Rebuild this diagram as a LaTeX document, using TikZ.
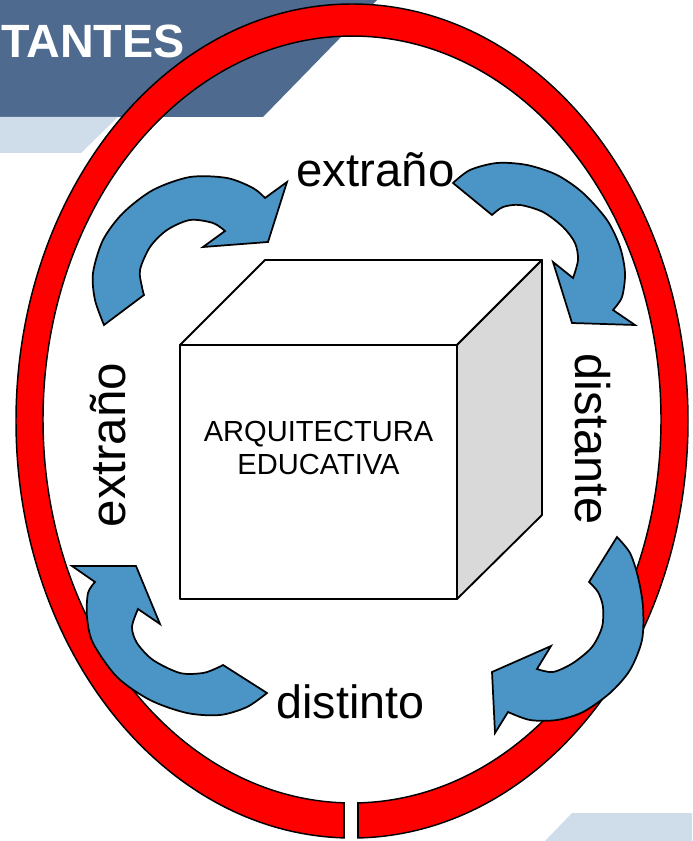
\documentclass[tikz,border=0pt]{standalone}
\usepackage{fontspec}
\setmainfont{Liberation Sans}
\definecolor{bannerdark}{RGB}{79,106,143}
\definecolor{bannerlight}{RGB}{207,221,234}
\definecolor{ringred}{RGB}{255,0,0}
\definecolor{arrowblue}{RGB}{74,148,198}
\definecolor{sidegray}{RGB}{217,217,217}
\begin{document}
\begin{tikzpicture}[x=0.75pt,y=-0.75pt,
  ringstyle/.style={fill=ringred, draw=black, line width=1.1pt, even odd rule},
  arrowstyle/.style={fill=arrowblue, draw=black, line width=1.3pt, line join=miter},
  cubeface/.style={draw=black, line width=1.4pt, line join=round},
  wordlbl/.style={inner sep=0pt, anchor=base, text=black}]
\useasboundingbox (0,0) rectangle (692,841);
% banner shapes
\fill[bannerdark] (0,0) -- (377,0) -- (263,117) -- (0,117) -- cycle;
\fill[bannerlight] (0,117) -- (118,117) -- (81,153) -- (0,153) -- cycle;
\fill[bannerlight] (545,841) -- (572,813) -- (692,813) -- (692,841) -- cycle;
\node[font=\bfseries\fontsize{35}{40}\selectfont, text=white, inner sep=0pt, anchor=base west] (title) at (1,58) {TANTES};
% ring
\path[ringstyle] (352,421) ellipse [x radius=252pt, y radius=312.75pt]
                 (352,419.5) ellipse [x radius=231.75pt, y radius=287.6pt];
\fill[white] (344.6,790) rectangle (357.4,845);
\draw[line width=1.1pt] (344,802.5) -- (344,838.3);
\draw[line width=1.1pt] (358,802.5) -- (358,838.3);
% cube
\filldraw[cubeface, fill=white] (180,345) -- (265,260) -- (542,260) -- (457,345) -- cycle;
\filldraw[cubeface, fill=sidegray] (457,345) -- (542,260) -- (542,515) -- (457,599) -- cycle;
\filldraw[cubeface, fill=white] (180,345) rectangle (457,599);
\node[font=\fontsize{21.8}{24.75}\selectfont, align=center, inner sep=0pt, anchor=north] (arq) at (318.5,421) {ARQUITECTURA\\EDUCATIVA};
% arrows
\filldraw[arrowstyle] plot[smooth] coordinates {(104,325) (95,300) (93,273) (103,240) (123,213) (153,190) (190,177) (227,178) (253,188) (265,198)}
  -- (287,182) -- (268,242) -- (203,247) -- (225,231)
  -- plot[smooth] coordinates {(225,231) (213,223) (190,220) (167,230) (150,247) (140,270) (142,287) (144,295)} -- cycle;
\filldraw[arrowstyle] plot[smooth] coordinates {(453,183) (470,170) (497,163) (527,165) (557,175) (583,193) (607,220) (620,247) (625,273) (622,297) (613,310)}
  -- (635,325) -- (572,323) -- (553,262) -- (573,278)
  -- plot[smooth] coordinates {(573,278) (578,260) (575,243) (563,227) (543,212) (520,205) (503,207) (492,215)} -- cycle;
\filldraw[arrowstyle] (72,566) -- (136,566) -- (160,624) -- (138,609)
  -- plot[smooth] coordinates {(138,609) (132,627) (137,643) (153,660) (180,673) (203,673) (217,668) (223,665)}
  -- plot[smooth] coordinates {(267,693) (247,707) (220,715) (187,713) (150,700) (117,677) (93,643) (87,617) (88,593) (95,582)} -- cycle;
\filldraw[arrowstyle] plot[smooth] coordinates {(617,537) (630,553) (638,577) (643,607) (642,640) (630,670) (610,693) (583,712) (557,720) (530,720) (508,712)}
  -- (495,733) -- (492,672) -- (551,646) -- (537,669)
  -- plot[smooth] coordinates {(537,669) (553,672) (573,663) (592,647) (602,627) (603,607) (598,592) (589,582)} -- cycle;
% words
\node[wordlbl, font=\fontsize{35.5}{40}\selectfont] (wtop) at (375.5,187) {extraño};
\node[wordlbl, font=\fontsize{35}{40}\selectfont] (wbottom) at (350.5,718) {distinto};
\node[wordlbl, font=\fontsize{37}{40}\selectfont, rotate=90] (wleft) at (125,445) {extraño};
\node[wordlbl, font=\fontsize{36.5}{40}\selectfont, rotate=-90] (wright) at (575,439) {distante};
\end{tikzpicture}
\end{document}
